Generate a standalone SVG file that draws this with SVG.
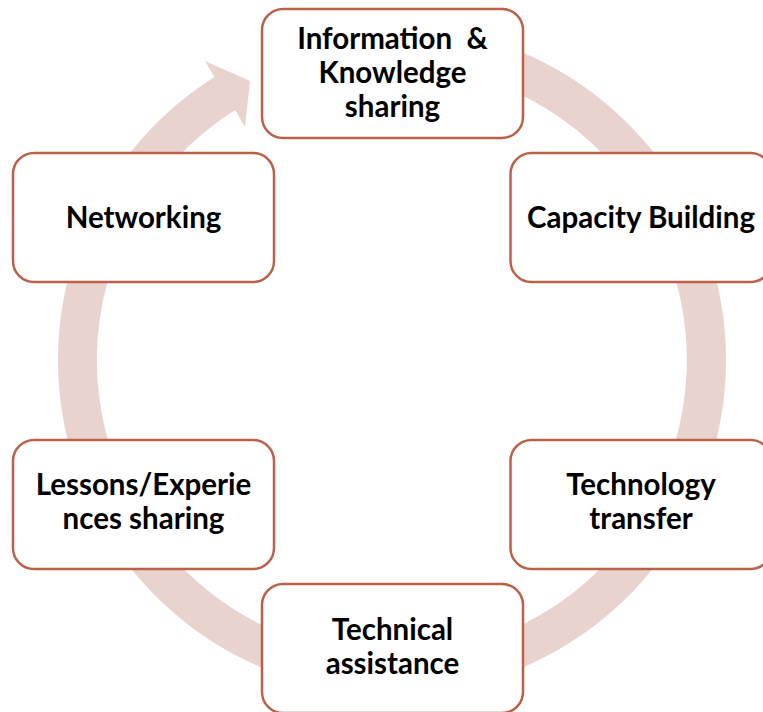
<svg xmlns="http://www.w3.org/2000/svg" width="763" height="712" viewBox="0 0 763 712">
<style>
.box{fill:#FFFFFF;stroke:#BC6149;stroke-width:2.5}
.t{font-family:Lato,"Open Sans","Liberation Sans",sans-serif;font-weight:bold;font-size:29.5px;fill:#000000;text-anchor:middle;white-space:pre}
.ring{fill:#E8D3CF;stroke:none}
</style>
<rect width="763" height="712" fill="#FFFFFF"/>
<g id="connectors">
<path class="ring" d="M305.6,37.4 A334,334 0 1 1 214.5,77.1 L205,61 L250,81 L245,127 L235.2,110.1 A295,295 0 1 0 315.6,75.1 Z"/>
</g>
<g id="node-info">
<rect class="box" x="262" y="9" width="261" height="129" rx="21"/>
<text class="t" x="392.5" y="48.5">Information  &amp;</text>
<text class="t" x="392.5" y="82.5">Knowledge</text>
<text class="t" x="392.5" y="116.5">sharing</text>
</g>
<g id="node-capacity">
<rect class="box" x="510.5" y="153" width="261" height="129" rx="21"/>
<text class="t" x="641" y="227.5">Capacity Building</text>
</g>
<g id="node-networking">
<rect class="box" x="13" y="153" width="261" height="129" rx="21"/>
<text class="t" x="143.5" y="227.5">Networking</text>
</g>
<g id="node-lessons">
<rect class="box" x="13" y="440" width="261" height="129" rx="21"/>
<text class="t" x="143.5" y="495">Lessons/Experie</text>
<text class="t" x="143.5" y="528.5">nces sharing</text>
</g>
<g id="node-technology">
<rect class="box" x="510.5" y="440" width="261" height="129" rx="21"/>
<text class="t" x="641" y="495">Technology</text>
<text class="t" x="641" y="528.5">transfer</text>
</g>
<g id="node-technical">
<rect class="box" x="262" y="584" width="261" height="129" rx="21"/>
<text class="t" x="392.5" y="640">Technical</text>
<text class="t" x="392.5" y="673.5">assistance</text>
</g>
</svg>
